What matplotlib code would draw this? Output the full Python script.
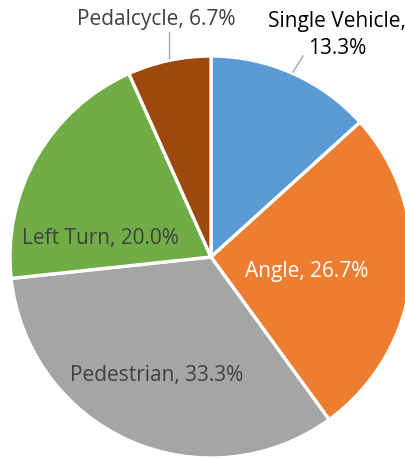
import matplotlib.pyplot as plt
import numpy as np

# crash types, clockwise from 12 o'clock
categories = ['Single Vehicle', 'Angle', 'Pedestrian', 'Left Turn', 'Pedalcycle']
shares = [13.3, 26.7, 33.3, 20.0, 6.7]
colors = ['#5B9BD5', '#ED7D31', '#A5A5A5', '#70AD47', '#9E480E']

W, H = 406, 460
fig = plt.figure(figsize=(W / 100, H / 100), dpi=100)
ax = fig.add_axes([0, 0, 1, 1])

cx, cy, r = 211, H - 258, 201
ax.pie(shares, colors=colors, startangle=90, counterclock=False,
       center=(cx, cy), radius=r, frame=True,
       wedgeprops=dict(edgecolor='white', linewidth=2.4))
ax.set_xlim(0, W)
ax.set_ylim(0, H)
ax.set_aspect('equal')
ax.axis('off')

font = dict(family=['Open Sans', 'DejaVu Sans'], fontsize=15)
labels = [f'{c}, {v:.1f}%' for c, v in zip(categories, shares)]

# inside labels
ax.text(307, H - 272, labels[1], color='white', ha='center', va='center', **font)
ax.text(157, H - 376, labels[2], color='#404040', ha='center', va='center', **font)
ax.text(100, H - 239, labels[3], color='#404040', ha='center', va='center', **font)

# outside labels with leader lines
ax.text(156, H - 19, labels[4], color='#404040', ha='center', va='center', **font)
ax.plot([169, 169], [H - 33, H - 59], color='#A5A5A5', lw=1)
ax.text(337, H - 35, 'Single Vehicle,\n13.3%', color='black', ha='center',
        va='center', linespacing=1.35, **font)
ax.plot([303, 293], [H - 57, H - 73], color='#A5A5A5', lw=1)

fig.savefig('out.png', dpi=100)
